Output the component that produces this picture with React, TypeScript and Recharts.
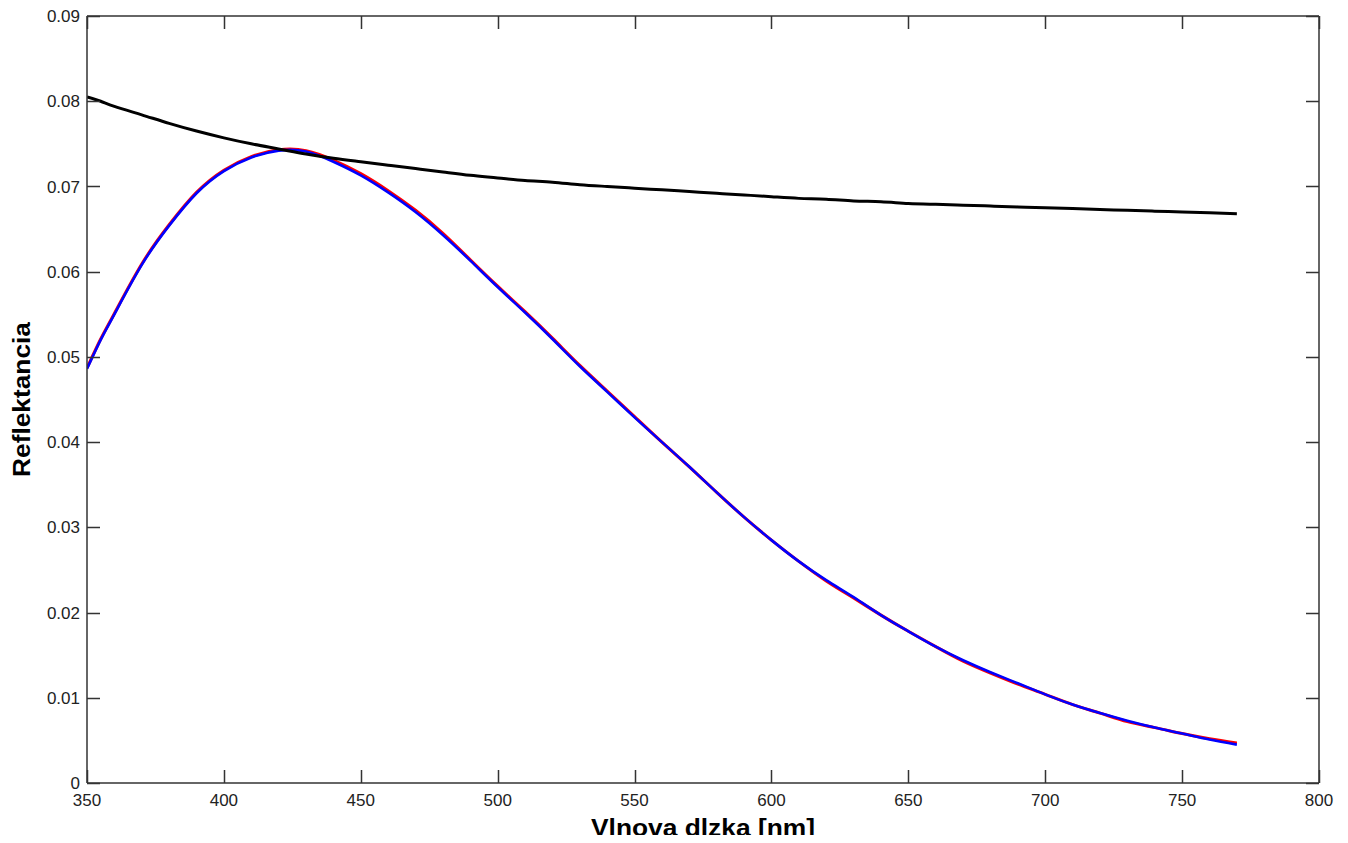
import React from "react";
import { LineChart, Line, XAxis, YAxis, ReferenceLine } from "recharts";

const wavelengths = [350, 355, 360, 370, 380, 390, 400, 410, 420, 430, 440, 450, 460, 470, 480, 490, 500, 510, 520, 530, 540, 550, 560, 570, 580, 590, 600, 610, 620, 630, 640, 650, 660, 670, 680, 690, 700, 710, 720, 730, 740, 750, 760, 770];

const blackSeries = [0.0805, 0.08, 0.0794, 0.0784, 0.0774, 0.0765, 0.0757, 0.075, 0.0744, 0.0738, 0.0733, 0.0729, 0.0725, 0.0721, 0.0717, 0.0713, 0.071, 0.0707, 0.0705, 0.0702, 0.07, 0.0698, 0.0696, 0.0694, 0.0692, 0.069, 0.0688, 0.0686, 0.0685, 0.0683, 0.0682, 0.068, 0.0679, 0.0678, 0.0677, 0.0676, 0.0675, 0.0674, 0.0673, 0.0672, 0.0671, 0.067, 0.0669, 0.0668];

const blueSeries = [0.0486, 0.052, 0.055, 0.0608, 0.0654, 0.0692, 0.0718, 0.0734, 0.0742, 0.0741, 0.0729, 0.0713, 0.0693, 0.067, 0.0643, 0.0613, 0.0582, 0.0552, 0.0521, 0.0489, 0.0459, 0.0429, 0.04, 0.0371, 0.0341, 0.0312, 0.0285, 0.026, 0.0238, 0.0218, 0.0197, 0.0178, 0.016, 0.0144, 0.013, 0.0117, 0.0104, 0.0092, 0.0082, 0.0073, 0.0065, 0.0058, 0.0051, 0.0045];

const redSeries = [0.0487, 0.0521, 0.0551, 0.0609, 0.0655, 0.0693, 0.0719, 0.0735, 0.0743, 0.0742, 0.0731, 0.0715, 0.0695, 0.0672, 0.0645, 0.0614, 0.0583, 0.0553, 0.0522, 0.049, 0.046, 0.043, 0.04, 0.0371, 0.0341, 0.0312, 0.0285, 0.026, 0.0237, 0.0217, 0.0197, 0.0178, 0.016, 0.0143, 0.0129, 0.0116, 0.0104, 0.0092, 0.0082, 0.0072, 0.0065, 0.0058, 0.0052, 0.0047];

const xTicks = [350, 400, 450, 500, 550, 600, 650, 700, 750, 800];
const yTicks = [0, 0.01, 0.02, 0.03, 0.04, 0.05, 0.06, 0.07, 0.08, 0.09];
const yTickLabels = ["0", "0.01", "0.02", "0.03", "0.04", "0.05", "0.06", "0.07", "0.08", "0.09"];

const data = wavelengths.map((w, i) => ({
  w,
  black: blackSeries[i],
  blue: blueSeries[i],
  red: redSeries[i],
}));

const W = 1348;
const H = 843;
const PLOT_LEFT = 87;
const PLOT_RIGHT = 1319;
const PLOT_TOP = 16;
const PLOT_BOTTOM = 783;
const TICK_LEN = 13;
const AXIS_COLOR = "#333";
const FONT = "'Liberation Sans', Arial, sans-serif";

const XTick = (props: any) => {
  const { x, payload } = props;
  const xi = Math.round(Number(x)) + 0.5;
  return (
    <g>
      <path
        d={`M${xi},${PLOT_BOTTOM} L${xi},${PLOT_BOTTOM - TICK_LEN} M${xi},${PLOT_TOP} L${xi},${PLOT_TOP + TICK_LEN}`}
        stroke={AXIS_COLOR}
        strokeWidth={1.5}
        fill="none"
      />
      <text x={x} y={PLOT_BOTTOM + 23} textAnchor="middle" fontSize={17} fontFamily={FONT} fill="#222">
        {payload.value}
      </text>
    </g>
  );
};

const YTick = (props: any) => {
  const { y, payload } = props;
  const idx = yTicks.indexOf(payload.value);
  const label = idx >= 0 ? yTickLabels[idx] : String(payload.value);
  const yi = Math.round(Number(y)) + 0.5;
  return (
    <g>
      <path
        d={`M${PLOT_LEFT},${yi} L${PLOT_LEFT + TICK_LEN},${yi} M${PLOT_RIGHT},${yi} L${PLOT_RIGHT - TICK_LEN},${yi}`}
        stroke={AXIS_COLOR}
        strokeWidth={1.5}
        fill="none"
      />
      <text x={PLOT_LEFT - 7} y={y} dy="0.36em" textAnchor="end" fontSize={17} fontFamily={FONT} fill="#222">
        {label}
      </text>
    </g>
  );
};

export default function App() {
  return (
    <div style={{ margin: -8, width: W, height: H, background: "#fff", position: "relative" }}>
      <LineChart
        width={W}
        height={H}
        data={data}
        margin={{ top: PLOT_TOP, right: W - PLOT_RIGHT, left: 0, bottom: 0 }}
      >
        <XAxis
          dataKey="w"
          type="number"
          domain={[350, 800]}
          ticks={xTicks}
          interval={0}
          height={H - PLOT_BOTTOM}
          tickLine={false}
          axisLine={{ stroke: AXIS_COLOR, strokeWidth: 1.5 }}
          tick={<XTick />}
          allowDataOverflow
        />
        <YAxis
          type="number"
          domain={[0, 0.09]}
          ticks={yTicks}
          interval={0}
          width={PLOT_LEFT}
          tickLine={false}
          axisLine={{ stroke: AXIS_COLOR, strokeWidth: 1.5 }}
          tick={<YTick />}
          allowDataOverflow
        />
        <ReferenceLine y={0.09} stroke={AXIS_COLOR} strokeWidth={1.5} ifOverflow="visible" />
        <ReferenceLine x={800} stroke={AXIS_COLOR} strokeWidth={1.5} ifOverflow="visible" />
        <Line type="natural" dataKey="red" stroke="#ff0000" strokeWidth={3} dot={false} isAnimationActive={false} />
        <Line type="natural" dataKey="blue" stroke="#0000ff" strokeWidth={2.6} dot={false} isAnimationActive={false} />
        <Line type="natural" dataKey="black" stroke="#000000" strokeWidth={3} dot={false} isAnimationActive={false} />
        <text
          x={(PLOT_LEFT + PLOT_RIGHT) / 2}
          y={836}
          textAnchor="middle"
          fontSize={24}
          fontWeight="bold"
          fontFamily={FONT}
          fill="#000"
          textLength={224}
          lengthAdjust="spacingAndGlyphs"
        >
          Vlnova dlzka [nm]
        </text>
        <text
          x={30}
          y={(PLOT_TOP + PLOT_BOTTOM) / 2}
          transform={`rotate(-90 30 ${(PLOT_TOP + PLOT_BOTTOM) / 2})`}
          textAnchor="middle"
          fontSize={24}
          fontWeight="bold"
          fontFamily={FONT}
          fill="#000"
          textLength={155}
          lengthAdjust="spacingAndGlyphs"
        >
          Reflektancia
        </text>
      </LineChart>
    </div>
  );
}
